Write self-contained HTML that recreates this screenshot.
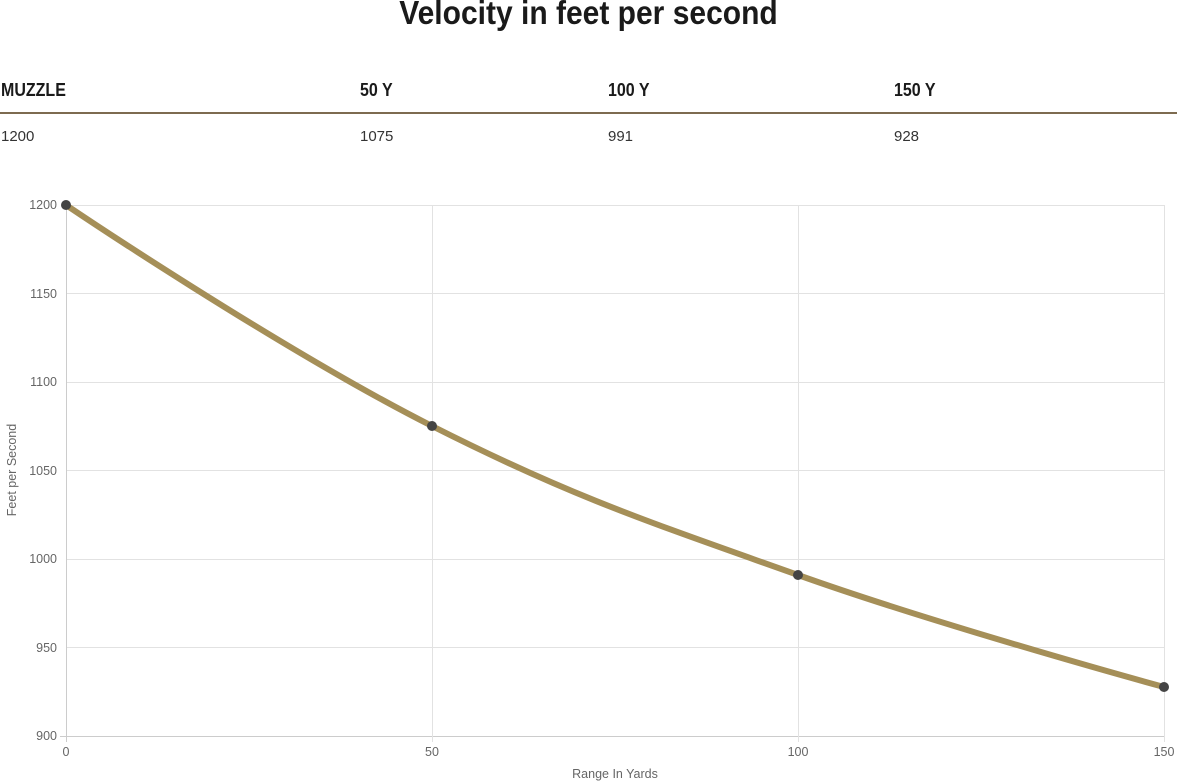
<!DOCTYPE html>
<html><head><meta charset="utf-8"><style>
body{margin:0;width:1180px;height:783px;background:#fff;overflow:hidden;position:relative;font-family:"Liberation Sans",sans-serif}
.t{position:absolute;font-family:"Liberation Sans Narrow","Liberation Sans",sans-serif;font-weight:bold;color:#1a1a1a}
.h{position:absolute;top:81px;font-size:16px;transform:scaleY(1.15);transform-origin:left top}
.v{position:absolute;top:128px;font-size:15px;color:#333}
</style></head><body>
<div class="t" style="left:0;width:1177px;text-align:center;top:-3px;font-size:30px;transform:scaleY(1.1)">Velocity in feet per second</div>
<div class="t h" style="left:1px">MUZZLE</div>
<div class="t h" style="left:360px">50 Y</div>
<div class="t h" style="left:608px">100 Y</div>
<div class="t h" style="left:894px">150 Y</div>
<div style="position:absolute;left:0;top:112px;width:1177px;height:2px;background:#7d6b50"></div>
<div class="v" style="left:1px">1200</div>
<div class="v" style="left:360px">1075</div>
<div class="v" style="left:608px">991</div>
<div class="v" style="left:894px">928</div>
<svg width="1180" height="783" style="position:absolute;left:0;top:0" font-family="Liberation Sans, sans-serif" font-size="12.5" fill="#666">
<g stroke="#e2e2e2" stroke-width="1">
<line x1="66" x2="1164" y1="205.5" y2="205.5"/><line x1="66" x2="1164" y1="293.5" y2="293.5"/>
<line x1="66" x2="1164" y1="382.5" y2="382.5"/><line x1="66" x2="1164" y1="470.5" y2="470.5"/>
<line x1="66" x2="1164" y1="559.5" y2="559.5"/><line x1="66" x2="1164" y1="647.5" y2="647.5"/>
<line x1="60" x2="1164" y1="736.5" y2="736.5" stroke="#ccc"/>
<line x1="66.5" x2="66.5" y1="205" y2="742" stroke="#ccc"/><line x1="432.5" x2="432.5" y1="205" y2="742"/>
<line x1="798.5" x2="798.5" y1="205" y2="742"/><line x1="1164.5" x2="1164.5" y1="205" y2="742"/>
</g>
<g text-anchor="end">
<text x="57" y="209">1200</text><text x="57" y="298">1150</text><text x="57" y="386">1100</text>
<text x="57" y="475">1050</text><text x="57" y="563">1000</text><text x="57" y="652">950</text><text x="57" y="740">900</text>
</g>
<g text-anchor="middle">
<text x="66" y="756">0</text><text x="432" y="756">50</text><text x="798" y="756">100</text><text x="1164" y="756">150</text>
<text x="615" y="778">Range In Yards</text>
<text transform="translate(16,470) rotate(-90)">Feet per Second</text>
</g>
<path d="M66,205 C66,205 279.8,349.1 432,426 C572.6,497.1 649.3,522 798,575 C942.1,626.4 1164,687 1164,687" fill="none" stroke="#a58f58" stroke-width="6"/>
<g fill="#444"><circle cx="66" cy="205" r="5"/><circle cx="432" cy="426" r="5"/><circle cx="798" cy="575" r="5"/><circle cx="1164" cy="687" r="5"/></g>
</svg>
</body></html>
